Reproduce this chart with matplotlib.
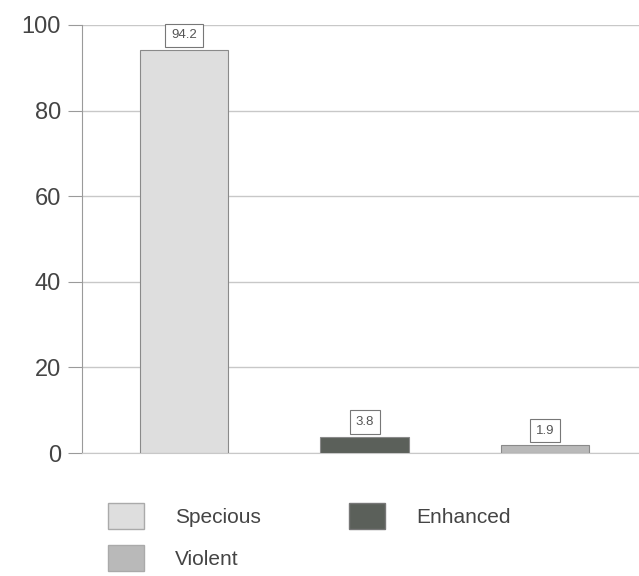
import matplotlib.pyplot as plt
from matplotlib.patches import Patch

plt.rcParams["font.family"] = ["Liberation Sans", "DejaVu Sans"]

categorias = ["Specious", "Enhanced", "Violent"]
valores = [94.2, 3.8, 1.9]
colores = ["#dedede", "#5b605a", "#b9b9b9"]
etiquetas = ["94.2", "3.8", "1.9"]

fig = plt.figure(figsize=(6.39, 5.76), dpi=100)
ax = fig.add_axes([0.128, 0.2135, 0.872, 0.7431])

x = list(range(len(categorias)))
barras = ax.bar(x, valores, width=0.49, color=colores,
                edgecolor="#8a8a8a", linewidth=0.8, zorder=3)

for b, txt in zip(barras, etiquetas):
    ax.annotate(txt, (b.get_x() + b.get_width() / 2, b.get_height()),
                xytext=(0, 6), textcoords="offset points",
                ha="center", va="bottom", fontsize=9.5, color="#555555",
                bbox=dict(boxstyle="square,pad=0.45", fc="white",
                          ec="#777777", lw=0.8), zorder=4)

ax.set_xlim(-0.567, 2.52)
ax.set_ylim(0, 100)
ax.set_yticks([0, 20, 40, 60, 80, 100])
ax.set_xticks([])
ax.yaxis.grid(True, color="#c8c8c8", linewidth=1.0, zorder=0)
for s in ["top", "right"]:
    ax.spines[s].set_visible(False)
ax.spines["left"].set_color("#9a9a9a")
ax.spines["bottom"].set_color("#c8c8c8")
ax.tick_params(axis="y", length=10, color="#9a9a9a", labelsize=17,
               labelcolor="#444444", pad=5)

handles = [Patch(facecolor=colores[0], edgecolor="#aaaaaa", label=categorias[0]),
           Patch(facecolor=colores[2], edgecolor="#aaaaaa", label=categorias[2]),
           Patch(facecolor=colores[1], edgecolor="#777777", label=categorias[1])]
fig.legend(handles=handles, ncol=2, loc="upper left",
           bbox_to_anchor=(0.153, 0.145), frameon=False, fontsize=15,
           borderpad=0, handlelength=1.7, handleheight=1.55,
           handletextpad=1.5, columnspacing=4.25, labelspacing=0.75,
           labelcolor="#444444")

fig.savefig("out.png", dpi=100)
